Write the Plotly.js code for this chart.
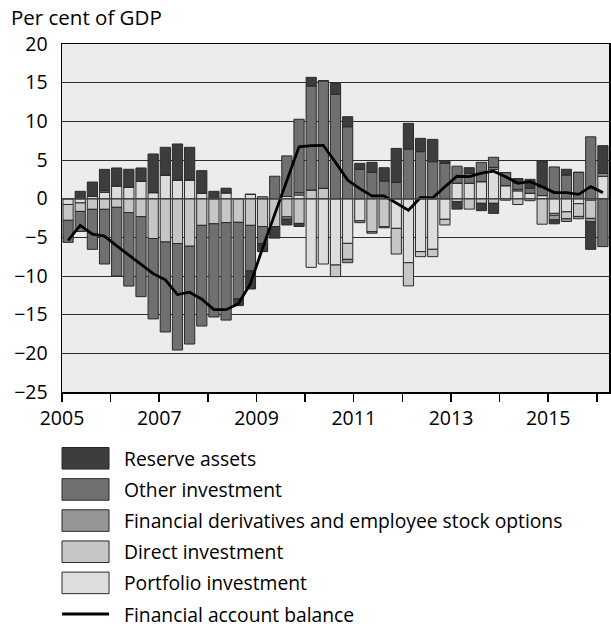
<!DOCTYPE html>
<html>
<head>
<meta charset="utf-8">
<script src="https://cdn.plot.ly/plotly-3.0.1.min.js"></script>
<style>
  html, body { margin: 0; padding: 0; background: #fff; }
  #chart { width: 611px; height: 628px; }
</style>
</head>
<body>
<div id="chart"></div>
<script>
// Quarters 2005 Q1 - 2016 Q1
var years = [2005, 2006, 2007, 2008, 2009, 2010, 2011, 2012, 2013, 2014, 2015, 2016];
var quarters = [];
years.forEach(function (y) {
  for (var q = 1; q <= 4; q++) {
    if (y === 2016 && q > 1) break;
    quarters.push(y + (q - 0.5) / 4);
  }
});

// Per cent of GDP
var portfolio = [-0.75, -0.55, 0.3, 0.82, 1.64, 1.47, 2.24, 0.78, 3.02, 2.41,
  2.41, 0.69, 0, 0.75, 0, 0.56, 0, 0, 0.28, 0.47,
  -8.88, -8.45, -8.58, -5.78, -2.85, 0, 0, -3.84, -8.28, -6.85,
  -6.55, -2.67, 2.0, 2.0, 2.2, 3.8, 1.68, 1.0, 0.7, 0.4,
  -1.9, -1.7, -0.65, -0.2, 2.9];
var direct = [-2.05, -1.1, -1.38, -1.38, -1.12, -1.8, -2.33, -5.15, -5.6, -5.8,
  -6.15, -3.45, -3.25, -3.1, -3.06, -3.45, -3.6, -3.6, -2.35, -3.2,
  1.12, 1.34, -1.5, -2.07, 0, -4.27, -3.62, -3.32, -3.0, -0.65,
  -0.95, -0.73, -0.4, -1.35, -0.6, -0.6, -0.2, -0.75, -0.26, -3.3,
  -0.25, -0.9, -1.65, -2.35, 0];
var derivatives = [0, 0, 0, 0.2, 0, 0, 0, 0, 0, 0,
  0, 0, 0, 0, 0, 0, 0.25, 0, -0.3, 0.3,
  0, 0, 0, -0.43, -0.25, -0.2, -0.15, 0, 0, 0,
  0, 0, 0, 0, 0, 0.25, 0, 0.2, 0, 0,
  -0.6, -0.35, -0.3, -0.45, 0.35];
var other = [-2.85, -2.6, -5.17, -7.07, -8.88, -9.5, -10.34, -10.4, -11.64, -13.77,
  -12.65, -13.02, -12.05, -12.6, -9.9, -5.9, -2.2, 2.9, 5.25, 9.5,
  13.45, 13.9, 13.5, 9.3, 3.8, 3.4, 2.28, 2.1, 6.42, 6.08,
  4.78, 4.57, 2.2, 1.3, 2.5, 1.3, 1.7, 0.85, 0.65, 1.1,
  4.1, 3.05, 3.4, 8.0, -6.2];
var reserve = [0, 0.95, 1.85, 2.77, 2.33, 2.33, 1.73, 5.0, 3.62, 4.66,
  4.23, 2.93, 0.95, 0.6, -0.87, -2.33, -1.05, -1.5, -0.75, -0.4,
  1.12, 0, 1.38, 1.3, 0.77, 1.3, 1.72, 4.4, 3.32, 1.72,
  2.89, 0.3, -0.95, 0.7, -0.95, -1.3, 0, 0.55, 1.15, 3.4,
  -0.5, 0.75, 0, -3.55, 3.6];
var balance = [-5.4, -3.45, -4.6, -4.85, -6.1, -7.3, -8.5, -9.7, -10.5, -12.4,
  -12.1, -13.0, -14.35, -14.35, -13.6, -11.0, -6.4, -2.0, 2.4, 6.7,
  6.85, 6.9, 4.7, 2.4, 1.3, 0.35, 0.37, -0.6, -1.5, 0.15,
  0.1, 1.55, 2.9, 2.84, 3.3, 3.55, 2.84, 1.98, 2.2, 1.55,
  0.78, 0.78, 0.56, 1.55, 0.78];

var tickYears = [2005, 2006, 2007, 2008, 2009, 2010, 2011, 2012, 2013, 2014, 2015, 2016];
var tickText = ['2005', '', '2007', '', '2009', '', '2011', '', '2013', '', '2015', ''];

// stacking order from zero outwards: portfolio, direct, derivatives, other, reserve
var series = [
  { name: 'Portfolio investment', y: portfolio, color: '#dddddd' },
  { name: 'Direct investment', y: direct, color: '#c6c6c6' },
  { name: 'Financial derivatives and employee stock options', y: derivatives, color: '#969696' },
  { name: 'Other investment', y: other, color: '#707070' },
  { name: 'Reserve assets', y: reserve, color: '#3d3d3d' }
];

var data = series.map(function (s) {
  return {
    type: 'bar',
    name: s.name,
    x: quarters,
    y: s.y,
    width: 0.21,
    marker: { color: s.color, line: { color: '#2a2a2a', width: 1 } },
    hoverinfo: 'skip',
    showlegend: false
  };
});

data.push({
  type: 'scatter',
  mode: 'lines',
  name: 'Financial account balance',
  x: quarters,
  y: balance,
  line: { color: '#000', width: 2.8 },
  hoverinfo: 'skip',
  showlegend: false
});

// hand-made legend below the plot (big swatches like the original)
var legendItems = series.slice().reverse().map(function (s) {
  return { name: s.name, color: s.color, kind: 'box' };
});
legendItems.push({ name: 'Financial account balance', color: '#000', kind: 'line' });

var shapes = [{
  type: 'line', xref: 'paper', yref: 'y', x0: 0, x1: 1, y0: 0, y1: 0,
  line: { color: '#444', width: 1.5 }, layer: 'above'
}];
var annotations = [];
legendItems.forEach(function (item, k) {
  var yc = -0.1905 - k * 0.0895;
  if (item.kind === 'box') {
    shapes.push({
      type: 'rect', xref: 'paper', yref: 'paper',
      x0: 0, x1: 0.086, y0: yc - 0.031, y1: yc + 0.031,
      fillcolor: item.color, line: { color: '#2a2a2a', width: 1 }
    });
  } else {
    shapes.push({
      type: 'line', xref: 'paper', yref: 'paper',
      x0: 0, x1: 0.086, y0: yc, y1: yc,
      line: { color: item.color, width: 3 }
    });
  }
  annotations.push({
    xref: 'paper', yref: 'paper', x: 0.109, y: yc,
    xanchor: 'left', yanchor: 'middle', showarrow: false,
    text: item.name, font: { size: 19.3, color: '#000' }
  });
});

var layout = {
  width: 611,
  height: 628,
  margin: { l: 62, r: 2, t: 44, b: 236 },
  paper_bgcolor: '#fff',
  plot_bgcolor: '#ececec',
  font: { family: 'Open Sans, sans-serif', size: 19, color: '#000' },
  title: {
    text: 'Per cent of GDP',
    xref: 'container', yref: 'container',
    x: 0.018, xanchor: 'left', y: 0.972, yanchor: 'middle',
    font: { size: 20.5, color: '#000' }
  },
  barmode: 'relative',
  showlegend: false,
  xaxis: {
    range: [2005, 2016.25],
    tickvals: tickYears,
    ticktext: tickText,
    ticks: 'outside', ticklen: 8, tickwidth: 1.5, tickcolor: '#000',
    showgrid: false, zeroline: false,
    showline: true, linecolor: '#000', linewidth: 1.5, mirror: true,
    tickfont: { size: 19.5 }
  },
  yaxis: {
    range: [-25, 20],
    tick0: 0, dtick: 5,
    ticks: 'outside', ticklen: 9, tickcolor: 'rgba(0,0,0,0)',
    showgrid: true, gridcolor: '#2e2e2e', gridwidth: 1,
    zeroline: false,
    showline: true, linecolor: '#000', linewidth: 1.5, mirror: true,
    tickfont: { size: 19.5 }
  },
  shapes: shapes,
  annotations: annotations
};

Plotly.newPlot('chart', data, layout, { displayModeBar: false, staticPlot: true });
</script>
</body>
</html>
